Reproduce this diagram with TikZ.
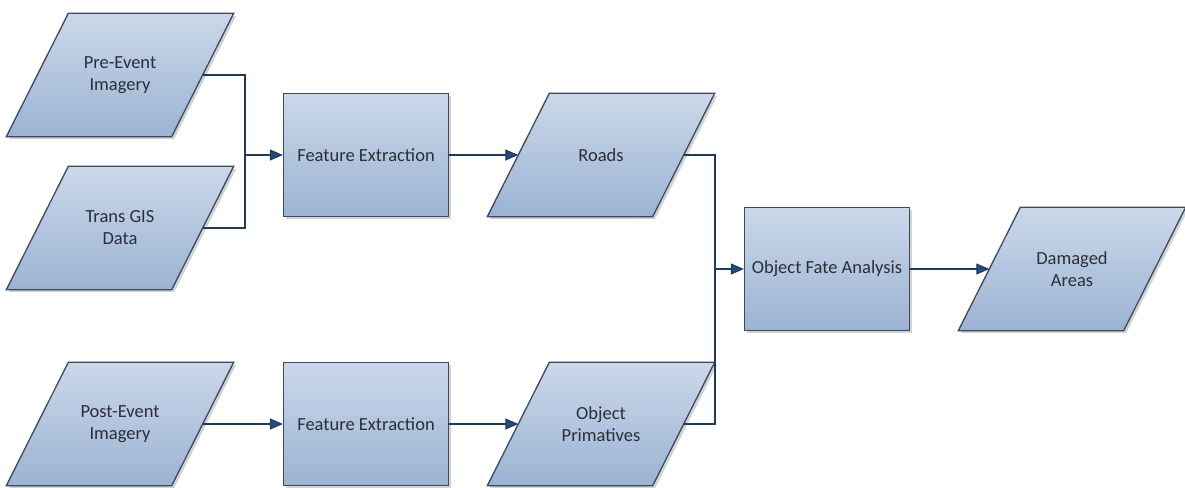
\documentclass[tikz,border=0pt]{standalone}
\usepackage{fontspec}
\setmainfont{Carlito}
\usetikzlibrary{shadows,arrows.meta}
\definecolor{edgec}{HTML}{3B4A5E}
\definecolor{topc}{HTML}{CBD8EA}
\definecolor{botc}{HTML}{9BB3D2}
\definecolor{txtc}{HTML}{2A2F3A}
\definecolor{linec}{HTML}{1F3A5C}
\definecolor{tipc}{HTML}{1F4E7F}
\tikzset{
  shapelook/.style={draw=edgec, line width=1.3pt, top color=topc, bottom color=botc,
    drop shadow={opacity=0.35, shadow xshift=2.5pt, shadow yshift=-2.5pt}},
  label text/.style={text=txtc, align=center, font=\fontsize{18.5}{22}\selectfont, inner sep=0pt},
  procbox/.style={shapelook, label text, rectangle, minimum width=165pt, minimum height=123pt},
  databox/.style={label text, rectangle, minimum width=165pt, minimum height=123pt},
  conn/.style={draw=linec, line width=1.2pt},
  arr/.style={conn, -{Triangle[length=13pt,width=11pt,fill=tipc]}},
}
\newcommand{\dataio}[3]{%
  \node[databox] (#1) at (#2) {};
  \path[shapelook] ([xshift=31pt]#1.north west) -- ([xshift=31pt]#1.north east)
    -- ([xshift=-31pt]#1.south east) -- ([xshift=-31pt]#1.south west) -- cycle;
  \node[label text] at (#1.center) {#3};
}
\begin{document}
\begin{tikzpicture}[x=1pt,y=-1pt]
\useasboundingbox (0,0) rectangle (1185,487);
\dataio{pre}{120,75}{Pre-Event\\Imagery}
\dataio{trans}{120,228}{Trans GIS\\Data}
\dataio{post}{120,424}{Post-Event\\Imagery}
\node[procbox] (fe1) at (366,155) {Feature Extraction};
\node[procbox] (fe2) at (366,424) {Feature Extraction};
\dataio{roads}{601,155}{Roads}
\dataio{prim}{601,424}{Object\\Primatives}
\node[procbox] (ofa) at (827,269) {Object Fate Analysis};
\dataio{dmg}{1072,269}{Damaged\\Areas}
\coordinate (j1) at (245,155);
\coordinate (j2) at (715,269);
\draw[conn] (pre.east) -| (j1);
\draw[conn] (trans.east) -| (j1);
\draw[arr] (j1) -- (fe1.west);
\draw[arr] (fe1.east) -- (roads.west);
\draw[arr] (post.east) -- (fe2.west);
\draw[arr] (fe2.east) -- (prim.west);
\draw[conn] (roads.east) -| (j2);
\draw[conn] (prim.east) -| (j2);
\draw[arr] (j2) -- (ofa.west);
\draw[arr] (ofa.east) -- (dmg.west);
\end{tikzpicture}
\end{document}
